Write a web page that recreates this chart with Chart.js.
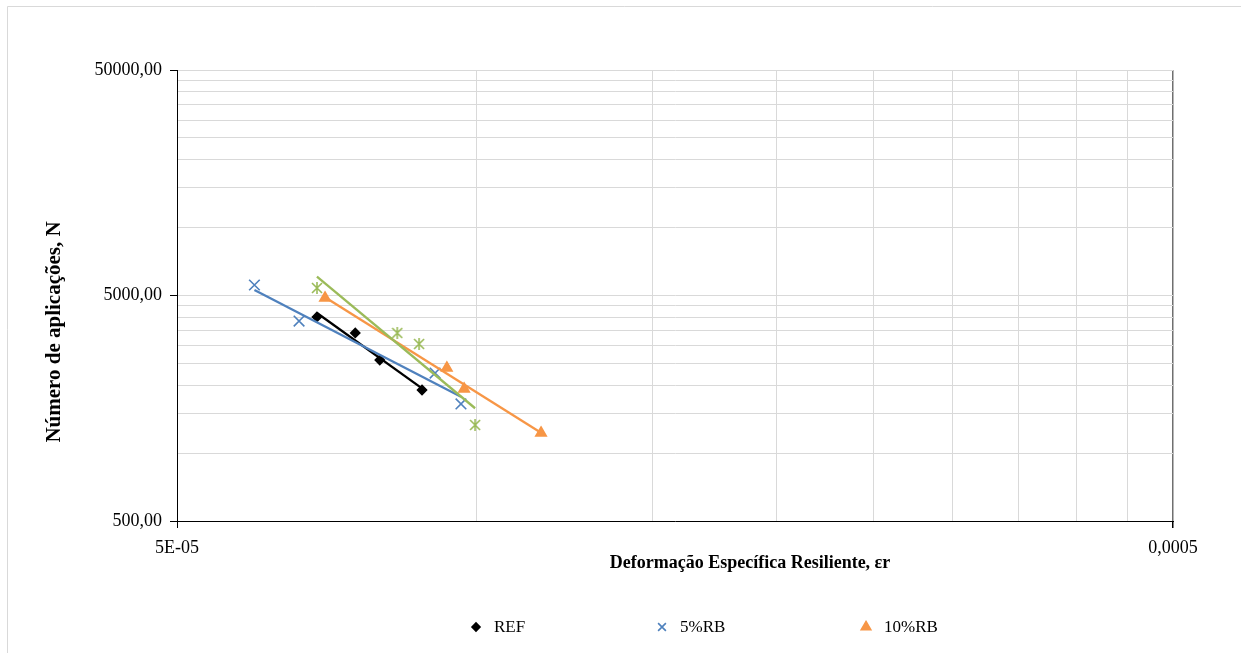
<!DOCTYPE html>
<html>
<head>
<meta charset="utf-8">
<script src="https://cdn.jsdelivr.net/npm/chart.js@4/dist/chart.umd.min.js"></script>
<style>
  html, body { margin: 0; padding: 0; background: #fff; }
  #wrap { position: relative; width: 1241px; height: 653px; }
</style>
</head>
<body>
<div id="wrap"><canvas id="grafico" width="1241" height="653"></canvas></div>
<script>
// Deformação específica resiliente (εr) x número de aplicações (N), por mistura
const refDef  = [6.91e-5, 7.55e-5, 7.99e-5, 8.81e-5];
const refN    = [4015, 3410, 2588, 1905];
const rb5Def  = [5.98e-5, 6.63e-5, 9.08e-5, 9.64e-5];
const rb5N    = [5566, 3853, 2266, 1652];
const rb10Def = [7.04e-5, 9.33e-5, 9.71e-5, 1.16e-4];
const rb10N   = [4874, 2385, 1925, 1228];
const rb15Def = [6.91e-5, 8.32e-5, 8.75e-5, 9.96e-5];
const rb15N   = [5398, 3410, 3048, 1333];

// rótulos dos eixos
const xLabelValues = [5e-5, 5e-4];
const xLabelTexts  = ['5E-05', '0,0005'];
const yLabelValues = [500, 5000, 50000];
const yLabelTexts  = ['500,00', '5000,00', '50000,00'];

const FONT = 'Liberation Serif';
const PRETO = '#000000', AZUL = '#4F81BD', LARANJA = '#F79646', VERDE = '#9BBB59';

function pontos(xs, ys) {
  return xs.map((x, i) => ({ x: x, y: ys[i] }));
}

// linha de tendência do tipo potência (reta em log-log), entre o menor e o maior εr
function tendencia(xs, ys) {
  const lx = xs.map(v => Math.log10(v));
  const ly = ys.map(v => Math.log10(v));
  const n = lx.length;
  const mx = lx.reduce((a, b) => a + b, 0) / n;
  const my = ly.reduce((a, b) => a + b, 0) / n;
  let sxy = 0, sxx = 0;
  for (let i = 0; i < n; i++) {
    sxy += (lx[i] - mx) * (ly[i] - my);
    sxx += (lx[i] - mx) * (lx[i] - mx);
  }
  const b = sxy / sxx;
  const a = my - b * mx;
  const x0 = Math.min(...xs), x1 = Math.max(...xs);
  return [
    { x: x0, y: Math.pow(10, a + b * Math.log10(x0)) },
    { x: x1, y: Math.pow(10, a + b * Math.log10(x1)) }
  ];
}

function rotulo(v, valores, textos) {
  for (let i = 0; i < valores.length; i++) {
    if (Math.abs(v - valores[i]) / valores[i] < 1e-6) return textos[i];
  }
  return '';
}

// marcador em asterisco (X com traço vertical)
function asterisco(cor, tam) {
  const c = document.createElement('canvas');
  c.width = tam; c.height = tam;
  const g = c.getContext('2d');
  g.strokeStyle = cor;
  g.lineWidth = 1.6;
  g.beginPath();
  g.moveTo(1, 1); g.lineTo(tam - 1, tam - 1);
  g.moveTo(tam - 1, 1); g.lineTo(1, tam - 1);
  g.moveTo(tam / 2, 0); g.lineTo(tam / 2, tam);
  g.stroke();
  return c;
}
const marcaVerde = asterisco(VERDE, 12);

function serie(label, xs, ys, cor, estilo, raio, legenda) {
  return {
    label: label,
    data: pontos(xs, ys),
    pointStyle: estilo,
    pointRadius: raio,
    pointHoverRadius: raio,
    pointBackgroundColor: cor,
    pointBorderColor: cor,
    pointBorderWidth: 1.6,
    showLine: false,
    order: 2,
    legenda: legenda
  };
}

function linha(xs, ys, cor, ordem) {
  return {
    label: '',
    data: tendencia(xs, ys),
    showLine: true,
    borderColor: cor,
    borderWidth: 2.3,
    pointRadius: 0,
    pointHoverRadius: 0,
    fill: false,
    order: ordem
  };
}

const datasets = [
  serie('REF', refDef, refN, PRETO, 'rectRot', 4.5, true),
  serie('5%RB', rb5Def, rb5N, AZUL, 'crossRot', 7.5, true),
  serie('10%RB', rb10Def, rb10N, LARANJA, 'triangle', 6, true),
  serie('15%RB', rb15Def, rb15N, VERDE, marcaVerde, 6, false),
  linha(refDef, refN, PRETO, 1.4),
  linha(rb5Def, rb5N, AZUL, 1.3),
  linha(rb10Def, rb10N, LARANJA, 1.2),
  linha(rb15Def, rb15N, VERDE, 1.1)
];

// títulos dos eixos, legenda e moldura
const extras = {
  id: 'extras',
  beforeDraw(chart) {
    const ctx = chart.ctx;
    ctx.save();
    ctx.fillStyle = '#ffffff';
    ctx.fillRect(0, 0, chart.width, chart.height);
    ctx.strokeStyle = '#d9d9d9';
    ctx.lineWidth = 1;
    ctx.beginPath();
    ctx.moveTo(7.5, chart.height);
    ctx.lineTo(7.5, 6.5);
    ctx.lineTo(chart.width, 6.5);
    ctx.stroke();
    ctx.restore();
  },
  afterDraw(chart) {
    const ctx = chart.ctx;
    ctx.save();
    ctx.fillStyle = '#000';
    ctx.textAlign = 'center';
    ctx.textBaseline = 'middle';
    ctx.font = 'bold 18px "' + FONT + '"';
    ctx.fillText('Deformação Específica Resiliente, εr', 750, 563);
    ctx.save();
    ctx.translate(55, 332);
    ctx.rotate(-Math.PI / 2);
    ctx.font = 'bold 21px "' + FONT + '"';
    ctx.fillText('Número de aplicações, N', 0, 0);
    ctx.restore();

    // legenda
    const posX = [476, 662, 866];
    const y = 627;
    let k = 0;
    ctx.font = '17px "' + FONT + '"';
    ctx.textAlign = 'left';
    chart.data.datasets.forEach(ds => {
      if (!ds.legenda) return;
      const x = posX[k++];
      ctx.fillStyle = ds.pointBackgroundColor;
      ctx.strokeStyle = ds.pointBorderColor;
      ctx.lineWidth = 1.6;
      Chart.helpers.drawPoint(ctx, {
        pointStyle: ds.pointStyle,
        radius: ds.pointStyle === 'rectRot' ? 4 : 5.5,
        borderWidth: 1.6,
        rotation: 0
      }, x, y);
      ctx.fillStyle = '#000';
      ctx.fillText(ds.label, x + 18, y + 1);
    });
    ctx.restore();
  }
};

new Chart(document.getElementById('grafico'), {
  type: 'scatter',
  data: { datasets: datasets },
  plugins: [extras],
  options: {
    responsive: false,
    animation: false,
    layout: { padding: { top: 70, right: 68, left: 0, bottom: 0 } },
    plugins: {
      legend: { display: false },
      tooltip: { enabled: false }
    },
    scales: {
      x: {
        type: 'logarithmic',
        min: 5e-5,
        max: 5e-4,
        afterBuildTicks: s => {
          s.ticks = [];
          for (let k = 1; k <= 10; k++) s.ticks.push({ value: k * 5e-5 });
        },
        afterFit: s => { s.height = 132; },
        ticks: {
          autoSkip: false,
          maxRotation: 0,
          padding: 9,
          color: '#000',
          font: { family: FONT, size: 18 },
          callback: v => rotulo(v, xLabelValues, xLabelTexts)
        },
        grid: {
          color: c => (c.tick && Math.abs(c.tick.value - 5e-4) < 1e-9) ? '#6f6f6f' : '#d9d9d9',
          lineWidth: c => (c.tick && Math.abs(c.tick.value - 5e-4) < 1e-9) ? 1.5 : 1,
          tickLength: 7,
          tickColor: c => (c.tick && rotulo(c.tick.value, xLabelValues, xLabelTexts)) ? '#000' : 'rgba(0,0,0,0)'
        },
        border: { color: '#000', width: 1 }
      },
      y: {
        type: 'logarithmic',
        min: 500,
        max: 50000,
        afterBuildTicks: s => {
          s.ticks = [];
          for (let k = 1; k <= 10; k++) s.ticks.push({ value: k * 500 });
          for (let k = 2; k <= 10; k++) s.ticks.push({ value: k * 5000 });
        },
        afterFit: s => { s.width = 177; },
        ticks: {
          autoSkip: false,
          padding: 8,
          color: '#000',
          font: { family: FONT, size: 18 },
          callback: v => rotulo(v, yLabelValues, yLabelTexts)
        },
        grid: {
          color: '#d9d9d9',
          lineWidth: 1,
          tickLength: 7,
          tickColor: c => (c.tick && rotulo(c.tick.value, yLabelValues, yLabelTexts)) ? '#000' : 'rgba(0,0,0,0)'
        },
        border: { color: '#000', width: 1 }
      }
    }
  }
});
</script>
</body>
</html>
